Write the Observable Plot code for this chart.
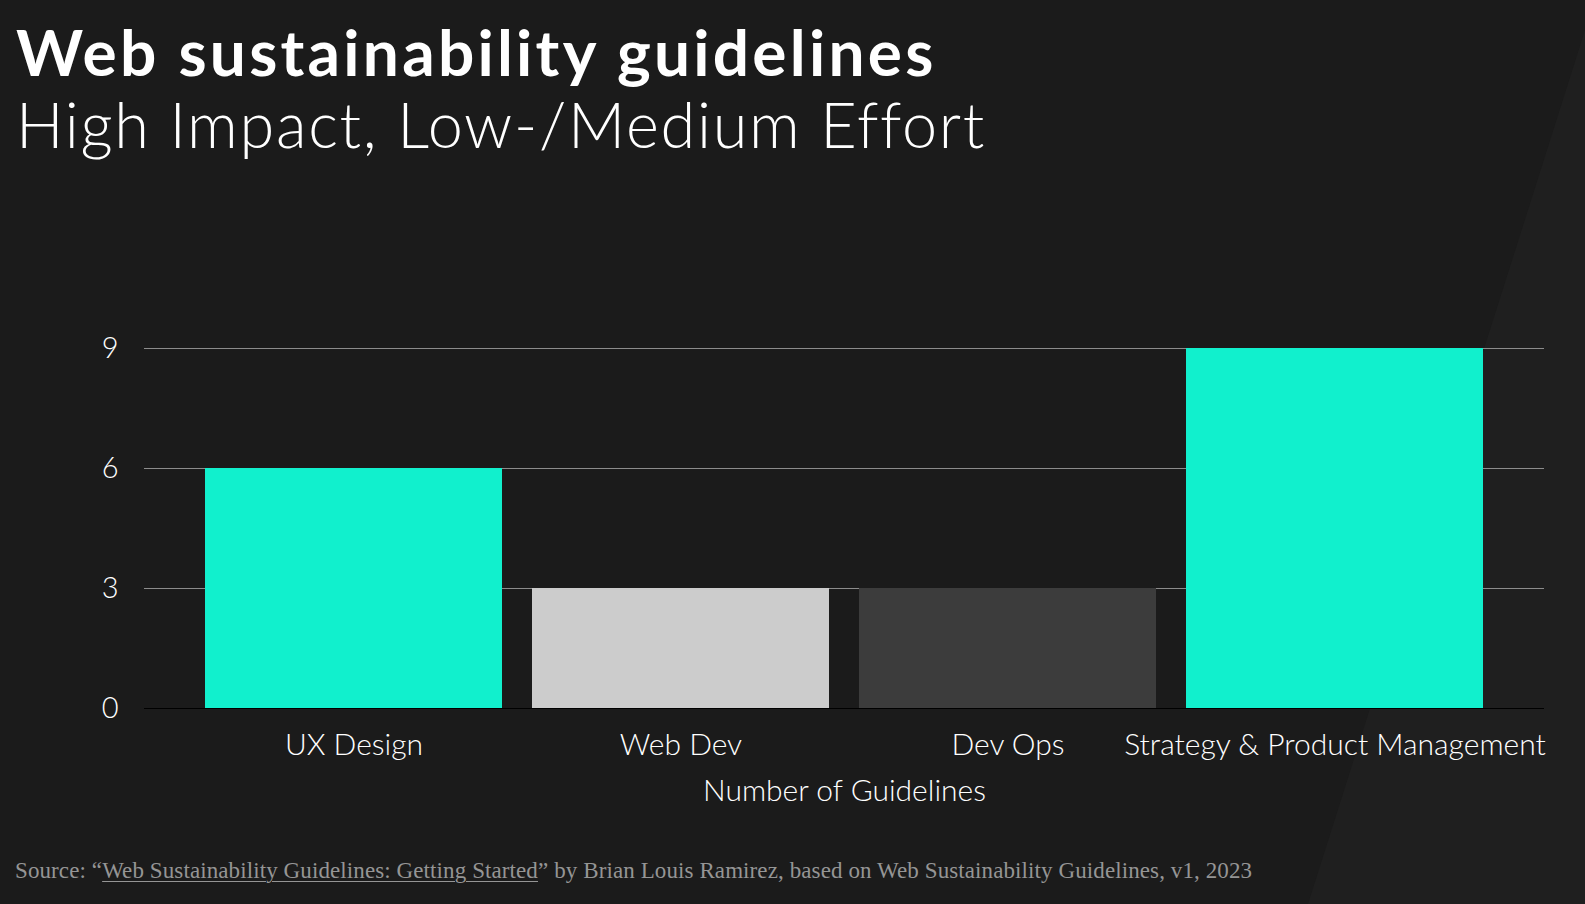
<!DOCTYPE html>
<html>
<head>
<meta charset="utf-8">
<script src="https://cdn.jsdelivr.net/npm/d3@7"></script>
<script src="https://cdn.jsdelivr.net/npm/@observablehq/plot@0.6"></script>
<style>
  html, body { margin: 0; padding: 0; }
  body {
    width: 1585px; height: 904px; overflow: hidden; position: relative;
    background-color: #1b1b1b;
    font-family: Lato, "Noto Sans", sans-serif;
  }
  #bgdiag {
    position: absolute; left: 0; top: 0; width: 1585px; height: 904px;
    background: #1f1f1f;
    clip-path: polygon(1585px 30px, 1585px 904px, 1308px 904px);
  }
  #title {
    position: absolute; left: 16px; top: 20px; color: #fff;
    font-family: Lato, sans-serif; font-weight: 700; font-size: 64px; line-height: 1;
    letter-spacing: 3.25px; white-space: nowrap;
  }
  #subtitle {
    position: absolute; left: 16px; top: 92px; color: #fff;
    font-family: Lato, sans-serif; font-weight: 300; font-size: 63px; line-height: 1;
    letter-spacing: 1.7px; white-space: nowrap;
  }
  #chart { position: absolute; left: 0; top: 300px; }
  #caption {
    position: absolute; left: 15px; top: 858px; color: #959595;
    font-family: "Liberation Serif", "DejaVu Serif", serif; font-size: 23px; letter-spacing: 0.1px; white-space: nowrap;
  }
  #caption u { text-decoration-thickness: 1px; text-underline-offset: 3px; }
</style>
</head>
<body>
<div id="bgdiag"></div>
<div id="title">Web sustainability guidelines</div>
<div id="subtitle">High Impact, Low-/Medium Effort</div>
<div id="chart"></div>
<div id="caption">Source: “<u>Web Sustainability Guidelines: Getting Started</u>” by Brian Louis Ramirez, based on Web Sustainability Guidelines, v1, 2023</div>
<script>
const categories = ["UX Design", "Web Dev", "Dev Ops", "Strategy & Product Management"];
const guidelineCounts = [6, 3, 3, 9];
const yTicks = [0, 3, 6, 9];
const xLabel = "Number of Guidelines";

const barColors = ["#11f0cd", "#cccccc", "#3c3c3c", "#11f0cd"];

const data = categories.map((c, i) => ({category: c, count: guidelineCounts[i]}));

const chart = Plot.plot({
  width: 1585,
  height: 520,
  marginTop: 48,
  marginBottom: 112,
  marginLeft: 144,
  marginRight: 41,
  style: {background: "transparent", color: "#ffffff", fontFamily: "Lato, sans-serif", fontWeight: 300, fontSize: "30px"},
  x: {domain: categories, paddingInner: 0.091, paddingOuter: 0.18},
  y: {domain: [0, 9]},
  color: {domain: categories, range: barColors},
  marks: [
    Plot.gridY(yTicks, {stroke: "#8c8c8c", strokeOpacity: 1, strokeWidth: 1}),
    Plot.barY(data, {x: "category", y: "count", fill: "category"}),
    Plot.ruleY([0], {stroke: "#000000", strokeWidth: 1.2}),
    Plot.axisY(yTicks, {tickSize: 0, tickPadding: 26, label: null, fontSize: 29, fill: "#ffffff"}),
    Plot.axisX({tickSize: 0, tickPadding: 25, label: xLabel, labelAnchor: "center", labelOffset: 92, fontSize: 30, fill: "#ffffff"})
  ]
});
document.getElementById("chart").appendChild(chart);
</script>
</body>
</html>
